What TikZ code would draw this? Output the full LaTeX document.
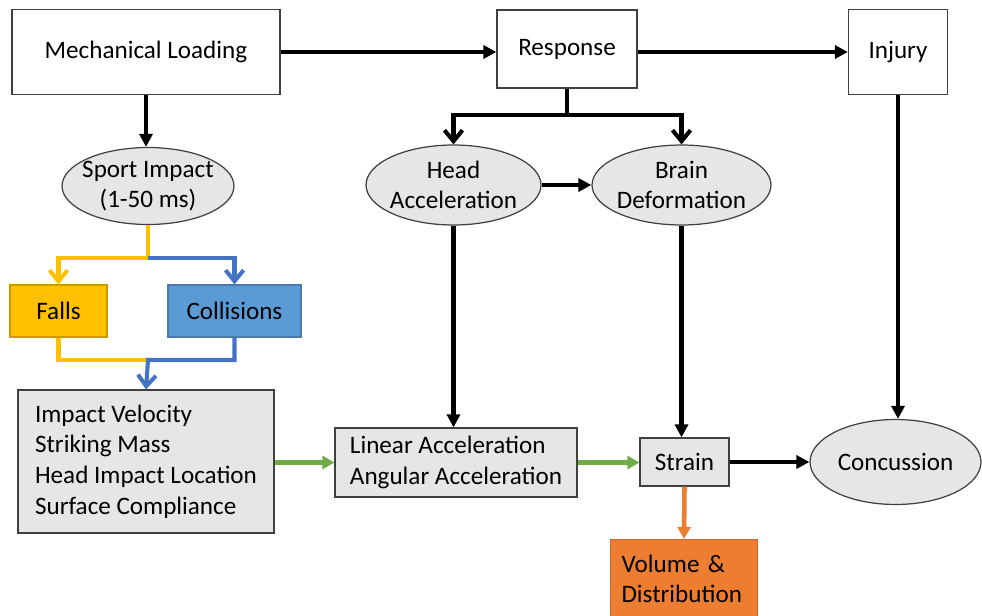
\documentclass[tikz,border=0pt]{standalone}
\usepackage{fontspec}
\setmainfont{Carlito}
\usepackage{xcolor}
\usetikzlibrary{arrows.meta}
\usetikzlibrary{shapes.geometric}
\definecolor{boxgray}{HTML}{E7E6E6}
\definecolor{edgegray}{HTML}{404040}
\definecolor{fallyellow}{HTML}{FFC000}
\definecolor{collblue}{HTML}{5B9BD5}
\definecolor{lineblue}{HTML}{4472C4}
\definecolor{linegreen}{HTML}{70AD47}
\definecolor{strainorange}{HTML}{ED7D31}

\begin{document}
\begin{tikzpicture}[x=0.02cm, y=-0.02cm,
        every node/.style={font=\fontsize{14.3}{17.4}\selectfont},
        plain/.style={draw=edgegray, line width=0.7pt, fill=white},
        greybox/.style={plain, fill=boxgray},
        oval/.style={ellipse, draw=edgegray, line width=0.7pt,
            fill=boxgray, inner sep=0pt},
        flow/.style={line width=2.3pt, -{Triangle[length=0.26cm, width=0.26cm]}},
        split/.style={line width=2.3pt, -{Straight Barb[length=0.22cm, width=0.36cm]}},
        thin flow/.style={line width=2.6pt, -{Triangle[length=0.24cm, width=0.26cm]}}]

    \useasboundingbox (0, 0) rectangle (982, 615);

    % top row
    \node[plain, minimum width=5.36cm, minimum height=1.70cm] (ml) at (146, 52)
        {Mechanical Loading};
    \node[plain, minimum width=2.80cm, minimum height=1.56cm] (rs) at (567, 49)
        {Response};
    \node[plain, minimum width=1.98cm, minimum height=1.70cm] (inj) at (898, 52)
        {Injury};

    % ellipses
    \node[oval, minimum width=3.44cm, minimum height=1.54cm,
        label={[align=center]center:Sport Impact\\(1-50 ms)}] (si) at (148, 186) {};
    \node[oval, minimum width=3.50cm, minimum height=1.60cm,
        label={[align=center]center:Head\\Acceleration}] (ha) at (453.5, 185) {};
    \node[oval, minimum width=3.58cm, minimum height=1.60cm,
        label={[align=center]center:Brain\\Deformation}] (bd) at (681.5, 185) {};
    \node[oval, minimum width=3.42cm, minimum height=1.70cm,
        label={center:Concussion}] (cc) at (895.5, 462) {};

    % impact types
    \node[draw=fallyellow!80!black, line width=0.7pt, fill=fallyellow,
        minimum width=1.94cm, minimum height=1.04cm] (fa) at (58.5, 311) {Falls};
    \node[draw=collblue!80!black, line width=0.7pt, fill=collblue,
        minimum width=2.66cm, minimum height=1.04cm] (co) at (234.5, 311) {Collisions};

    % parameters
    \node[greybox, minimum width=5.12cm, minimum height=2.86cm, align=left]
        (bb) at (146, 461.5)
        {Impact Velocity\\Striking Mass\\Head Impact Location\\Surface Compliance};
    \node[greybox, minimum width=4.84cm, minimum height=1.38cm, align=left]
        (la) at (456, 462.5) {Linear Acceleration\\Angular Acceleration};
    \node[greybox, minimum width=1.78cm, minimum height=0.96cm] (st) at (684.5, 462)
        {Strain};
    \node[draw=strainorange!85!black, line width=0.7pt, fill=strainorange,
        minimum width=2.92cm, minimum height=1.58cm, align=left,
        text width=2.5cm, inner xsep=0.22cm] (vd) at (684, 579)
        {Volume \&\\Distribution};

    \coordinate (j1) at (567, 115);
    \coordinate (j2) at (148, 258);
    \coordinate (j3) at (148, 360);

    \begin{scope}[black]
        \draw[flow] (ml.east) -- (ml.east -| rs.west);
        \draw[flow] (rs.east |- ml.east) -- (rs.east |- ml.east -| inj.west);
        \draw[flow] (ml.south) -- (ml.south |- si.north);
        \draw[line width=2.3pt] (rs.south) -- (j1);
        \draw[split] (j1) -| (ha.north);
        \draw[split] (j1) -| (bd.north);
        \draw[flow] (ha.east) -- (bd.west);
        \draw[flow] (ha.south) -- (ha.south |- la.north);
        \draw[flow] (bd.south) -- (bd.south |- st.north);
        \draw[flow] (inj.south) -- (inj.south |- cc.north);
        \draw[flow] (st.east) -- (cc.west);
    \end{scope}

    \begin{scope}[line width=2.3pt]
        \draw[split, fallyellow] (si.south) -- (j2) -| (fa.north);
        \draw[split, lineblue] (j2) -| (co.north);
        \draw[fallyellow] (fa.south) |- (j3);
        \draw[split, lineblue] (co.south) |- (j3) -- (bb.north);
    \end{scope}

    \draw[thin flow, linegreen] (bb.east |- la.west) -- (la.west);
    \draw[thin flow, linegreen] (la.east) -- (la.east -| st.west);
    \draw[thin flow, strainorange] (st.south) -- (vd.north);

\end{tikzpicture}
\end{document}
